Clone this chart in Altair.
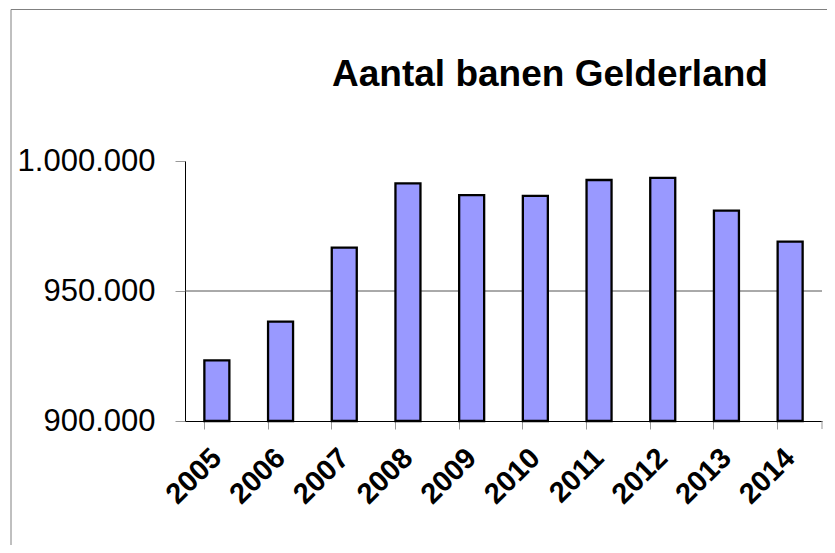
import altair as alt
import pandas as pd

years = ["2005", "2006", "2007", "2008", "2009", "2010", "2011", "2012", "2013", "2014"]
banen = [923300, 938200, 966700, 991400, 986900, 986600, 992700, 993500, 980900, 969000]
y_ticks = [900000, 950000, 1000000]
grid_values = [950000]
title_text = "Aantal banen Gelderland"

W, H = 637, 260
FONT = "Liberation Sans"

df = pd.DataFrame({"jaar": years, "banen": banen})

xscale = alt.Scale(paddingInner=0.6075, paddingOuter=0.304)
yscale = alt.Scale(domain=[900000, 1000000], zero=False, nice=False)

yaxis = alt.Axis(
    values=y_ticks,
    grid=False,
    domainColor="#000000",
    domainWidth=1,
    tickColor="#999999",
    tickSize=10,
    labelFont=FONT,
    labelFontSize=31,
    labelColor="#000000",
    labelPadding=20,
    labelExpr="join(split(format(datum.value, ',d'), ','), '.')",
)

grid = alt.Chart(pd.DataFrame({"banen": grid_values})).mark_rule(
    color="#555555", strokeWidth=1
).encode(y=alt.Y("banen:Q", scale=yscale, title=None, axis=yaxis))

bars = alt.Chart(df).mark_bar(
    fill="#9999FF", stroke="#000000", strokeWidth=2.3
).encode(
    x=alt.X(
        "jaar:O",
        scale=xscale,
        sort=years,
        title=None,
        axis=alt.Axis(
            orient="bottom",
            ticks=False,
            tickSize=0,
            domain=True,
            domainColor="#000000",
            domainWidth=1,
            labelAngle=315,
            labelAlign="right",
            labelBaseline="middle",
            labelFont=FONT,
            labelFontSize=29,
            labelFontWeight="bold",
            labelColor="#000000",
            labelPadding=32,
            labelOverlap=False,
        ),
    ),
    y=alt.Y("banen:Q", scale=yscale, title=None, axis=yaxis),
    y2=alt.datum(900000),
)

ticks_layer = alt.Chart(df).mark_bar(opacity=0).encode(
    x=alt.X(
        "jaar:O",
        scale=xscale,
        sort=years,
        title=None,
        axis=alt.Axis(
            orient="bottom",
            bandPosition=0,
            labels=False,
            domain=False,
            ticks=True,
            tickSize=8,
            tickColor="#999999",
        ),
    ),
    y=alt.Y("banen:Q", scale=yscale, title=None, axis=yaxis),
    y2=alt.datum(900000),
)

end_tick = alt.Chart(pd.DataFrame({"k": [0]})).mark_rule(
    color="#999999", strokeWidth=1
).encode(x=alt.value(W), y=alt.value(H), y2=alt.value(H + 8))

border = alt.Chart(pd.DataFrame({"k": [0]})).mark_rule(
    color="#808080", strokeWidth=1
)
border_left = border.encode(x=alt.value(-174), y=alt.value(-151.5), y2=alt.value(400))
border_top = border.encode(x=alt.value(-174), x2=alt.value(660), y=alt.value(-151.5))

title = alt.Chart(pd.DataFrame({"t": [title_text]})).mark_text(
    font=FONT, fontSize=37, fontWeight="bold", color="#000000",
    align="center", baseline="alphabetic"
).encode(text="t:N", x=alt.value(365), y=alt.value(-75))

chart = alt.layer(
    grid, ticks_layer, bars, end_tick, border_left, border_top, title
).resolve_axis(x="independent").properties(
    width=W,
    height=H,
    background="white",
    autosize=alt.AutoSizeParams(type="none"),
    padding={"left": 177, "top": 153, "right": 5, "bottom": 124},
).configure_view(stroke=None)

chart.save("out.html", embed_options={"renderer": "svg", "actions": False})
